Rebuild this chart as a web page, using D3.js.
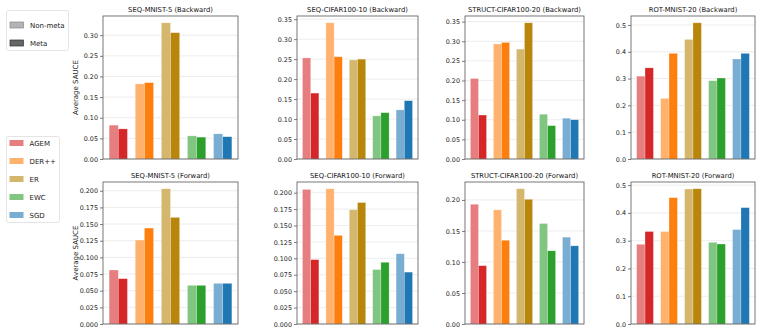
<!DOCTYPE html>
<html lang="en">

<head>
    <meta charset="UTF-8">
    <title>Average SAUCE</title>
    <script src="https://d3js.org/d3.v7.min.js"></script>
    <style>
        body {
            margin: 0;
            background: #fff;
            font-family: "DejaVu Sans", sans-serif;
        }

        .tick text {
            font-size: 6.4px;
            fill: #222;
        }

        .title {
            font-size: 6.8px;
            text-anchor: middle;
            fill: #111;
        }

        .ylabel {
            font-size: 7px;
            text-anchor: middle;
            fill: #222;
        }

        .legend text {
            font-size: 7px;
            fill: #222;
        }
    </style>
</head>

<body>
    <div id="chart"></div>

    <script>
        // methods and colours
        const methods = ["AGEM", "DER++", "ER", "EWC", "SGD"];
        const colors = ["#d62728", "#ff7f0e", "#b8860b", "#2ca02c", "#1f77b4"];

        // panel titles, top row then bottom row
        const titles = [
            "SEQ-MNIST-5 (Backward)", "SEQ-CIFAR100-10 (Backward)",
            "STRUCT-CIFAR100-20 (Backward)", "ROT-MNIST-20 (Backward)",
            "SEQ-MNIST-5 (Forward)", "SEQ-CIFAR100-10 (Forward)",
            "STRUCT-CIFAR100-20 (Forward)", "ROT-MNIST-20 (Forward)"
        ];

        // values (per panel, per method)
        const nonMeta = [
            [0.082, 0.182, 0.330, 0.056, 0.061],
            [0.253, 0.341, 0.248, 0.108, 0.123],
            [0.205, 0.293, 0.280, 0.114, 0.104],
            [0.309, 0.226, 0.446, 0.292, 0.373],
            [0.081, 0.126, 0.203, 0.058, 0.061],
            [0.205, 0.206, 0.174, 0.083, 0.107],
            [0.193, 0.184, 0.218, 0.162, 0.140],
            [0.287, 0.333, 0.486, 0.294, 0.340]
        ];
        const meta = [
            [0.073, 0.185, 0.306, 0.053, 0.054],
            [0.165, 0.256, 0.250, 0.116, 0.146],
            [0.112, 0.297, 0.347, 0.085, 0.100],
            [0.340, 0.394, 0.508, 0.302, 0.394],
            [0.068, 0.144, 0.160, 0.058, 0.061],
            [0.098, 0.135, 0.185, 0.094, 0.079],
            [0.094, 0.135, 0.201, 0.118, 0.126],
            [0.333, 0.455, 0.487, 0.288, 0.419]
        ];

        // y tick step and decimals per panel
        const tickSteps = [0.05, 0.05, 0.05, 0.1, 0.025, 0.025, 0.05, 0.1];
        const tickDigits = [2, 2, 2, 1, 3, 3, 2, 1];

        const W = 763, H = 332;
        const colLeft = [103, 297, 465, 631];
        const colRight = [238, 418, 584, 755];
        const rowTop = [16, 182];
        const rowBottom = [159, 324];
        const barW = 0.35;

        const svg = d3.select("#chart").append("svg")
            .attr("width", W)
            .attr("height", H);

        const light = c => {
            const k = d3.rgb(c);
            return d3.rgb(k.r * 0.6 + 102, k.g * 0.6 + 102, k.b * 0.6 + 102).formatHex();
        };

        titles.forEach((title, i) => {
            const col = i % 4, row = Math.floor(i / 4);
            const x0 = colLeft[col], x1 = colRight[col];
            const y0 = rowTop[row], y1 = rowBottom[row];

            const x = d3.scaleLinear()
                .domain([-0.35 - 0.235, 4.35 + 0.235])
                .range([x0, x1]);
            const top = d3.max(nonMeta[i].concat(meta[i])) * 1.05;
            const y = d3.scaleLinear().domain([0, top]).range([y1, y0]);

            const step = tickSteps[i];
            const ticks = d3.range(0, top + 1e-9, step).map(v => +v.toFixed(4));

            const g = svg.append("g");

            // grid
            g.selectAll(".grid").data(ticks).join("line")
                .attr("x1", x0).attr("x2", x1)
                .attr("y1", d => y(d)).attr("y2", d => y(d))
                .attr("stroke", "#e8e8e8")
                .attr("stroke-width", 0.8);

            // bars
            const bars = methods.map((m, j) => ({ j, a: nonMeta[i][j], b: meta[i][j] }));
            g.selectAll(".nm").data(bars).join("rect")
                .attr("x", d => x(d.j - barW))
                .attr("width", d => x(barW) - x(0))
                .attr("y", d => y(d.a))
                .attr("height", d => y1 - y(d.a))
                .attr("fill", d => light(colors[d.j]))
                .attr("stroke", "#fff").attr("stroke-opacity", 0.4).attr("stroke-width", 0.6);
            g.selectAll(".mt").data(bars).join("rect")
                .attr("x", d => x(d.j))
                .attr("width", d => x(barW) - x(0))
                .attr("y", d => y(d.b))
                .attr("height", d => y1 - y(d.b))
                .attr("fill", d => colors[d.j])
                .attr("stroke", "#fff").attr("stroke-opacity", 0.4).attr("stroke-width", 0.6);

            // y axis
            const yAxis = d3.axisLeft(y)
                .tickValues(ticks)
                .tickSize(3)
                .tickPadding(2)
                .tickFormat(d3.format(`.${tickDigits[i]}f`));
            const ax = g.append("g")
                .attr("transform", `translate(${x0},0)`)
                .call(yAxis);
            ax.select(".domain").remove();
            ax.selectAll(".tick line").attr("stroke", "#444").attr("stroke-width", 0.7);
            ax.selectAll(".tick text").attr("font-family", "DejaVu Sans");

            // frame
            g.append("rect")
                .attr("x", x0).attr("y", y0)
                .attr("width", x1 - x0).attr("height", y1 - y0)
                .attr("fill", "none")
                .attr("stroke", "#555")
                .attr("stroke-width", 0.8);

            g.append("text")
                .attr("class", "title")
                .attr("x", (x0 + x1) / 2)
                .attr("y", y0 - 4.5)
                .text(title);

            if (col === 0) {
                svg.append("text")
                    .attr("class", "ylabel")
                    .attr("transform", `translate(78,${(y0 + y1) / 2}) rotate(-90)`)
                    .text("Average SAUCE");
            }
        });

        // legend: Non-meta / Meta
        const leg1 = svg.append("g").attr("class", "legend");
        leg1.append("rect")
            .attr("x", 6.5).attr("y", 10.5).attr("width", 62).attr("height", 40)
            .attr("rx", 2).attr("fill", "#fff").attr("stroke", "#ddd").attr("stroke-width", 0.8);
        const kinds = [
            { label: "Non-meta", fill: "#b4b4b4", stroke: "#888" },
            { label: "Meta", fill: "#666", stroke: "#333" }
        ];
        kinds.forEach((k, j) => {
            const cy = 25 + j * 18;
            leg1.append("rect")
                .attr("x", 10).attr("y", cy - 3).attr("width", 13.5).attr("height", 6)
                .attr("fill", k.fill).attr("stroke", k.stroke).attr("stroke-width", 0.7);
            leg1.append("text").attr("x", 30).attr("y", cy + 2.5).text(k.label);
        });

        // legend: methods
        const leg2 = svg.append("g").attr("class", "legend");
        leg2.append("rect")
            .attr("x", 6.5).attr("y", 136.5).attr("width", 53).attr("height", 86)
            .attr("rx", 2).attr("fill", "#fff").attr("stroke", "#ddd").attr("stroke-width", 0.8);
        methods.forEach((m, j) => {
            const cy = 143 + j * 18;
            leg2.append("rect")
                .attr("x", 9.5).attr("y", cy - 3).attr("width", 14).attr("height", 6)
                .attr("fill", light(colors[j]));
            leg2.append("text").attr("x", 29.5).attr("y", cy + 2.5).text(m);
        });
    </script>
</body>

</html>
